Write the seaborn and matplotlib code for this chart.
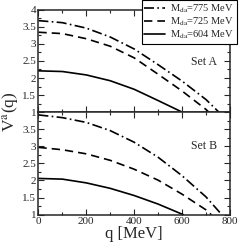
import matplotlib
matplotlib.use("Agg")
import matplotlib.pyplot as plt
import seaborn as sns
from matplotlib.ticker import MultipleLocator

# Set A curves, V^a(q)
q_775_a = [0, 100, 200, 300, 400, 500, 600, 700, 754]
v_775_a = [3.68, 3.62, 3.46, 3.20, 2.85, 2.39, 1.91, 1.37, 1.0]
q_725_a = [0, 100, 200, 300, 400, 500, 600, 700, 712]
v_725_a = [3.34, 3.30, 3.15, 2.93, 2.59, 2.11, 1.62, 1.08, 1.0]
q_604_a = [0, 100, 200, 300, 400, 500, 601]
v_604_a = [2.21, 2.19, 2.09, 1.92, 1.67, 1.34, 1.0]

# Set B curves
q_775_b = [0, 100, 200, 300, 400, 500, 600, 700, 766]
v_775_b = [3.92, 3.84, 3.70, 3.46, 3.12, 2.68, 2.14, 1.52, 1.0]
q_725_b = [0, 100, 200, 300, 400, 500, 600, 700, 722]
v_725_b = [2.97, 2.90, 2.78, 2.59, 2.33, 2.01, 1.60, 1.14, 1.0]
q_604_b = [0, 100, 200, 300, 400, 500, 605]
v_604_b = [2.06, 2.04, 1.93, 1.77, 1.56, 1.31, 1.0]

labels = [r"M$_{\mathrm{da}}$=775 MeV", r"M$_{\mathrm{da}}$=725 MeV",
          r"M$_{\mathrm{da}}$=604 MeV"]
styles = [(0, (6, 2, 1, 2)), (0, (5, 3)), "-"]

sns.set_style("ticks")
plt.rcParams["font.family"] = ["Liberation Serif", "DejaVu Serif"]
plt.rcParams["mathtext.fontset"] = "stix"

fig, axes = plt.subplots(2, 1, figsize=(2.4, 2.42), dpi=100, sharex=True)
fig.subplots_adjust(left=0.160, right=0.958, top=0.960, bottom=0.113, hspace=0)

sets = [
    [(q_775_a, v_775_a), (q_725_a, v_725_a), (q_604_a, v_604_a)],
    [(q_775_b, v_775_b), (q_725_b, v_725_b), (q_604_b, v_604_b)],
]

for ax, curves in zip(axes, sets):
    for (q, v), ls, lab in zip(curves, styles, labels):
        sns.lineplot(x=q, y=v, ax=ax, color="black", linestyle=ls,
                     linewidth=1.2, label=lab, legend=False)
    ax.set_xlim(0, 800)
    ax.set_ylim(1, 4)
    ax.xaxis.set_major_locator(MultipleLocator(200))
    ax.xaxis.set_minor_locator(MultipleLocator(100))
    ax.yaxis.set_major_locator(MultipleLocator(0.5))
    ax.yaxis.set_minor_locator(MultipleLocator(0.25))
    ax.tick_params(which="both", direction="in", top=True, right=True,
                   labelsize=8, width=0.8, pad=1.5)
    ax.tick_params(which="major", length=4)
    ax.tick_params(which="minor", length=2)
    for sp in ax.spines.values():
        sp.set_linewidth(1.1)
    ax.set_ylabel("")
    ax.yaxis.set_major_formatter(plt.FuncFormatter(lambda v, p: f"{v:g}"))

axes[0].text(691, 2.46, "Set A", fontsize=8.5, ha="center", va="center")
axes[1].text(691, 3.0, "Set B", fontsize=8.5, ha="center", va="center")

axes[1].set_yticks([1, 1.5, 2, 2.5, 3, 3.5, 4])
axes[1].set_yticklabels(["1", "1.5", "2", "2.5", "3", "3.5", ""])
axes[1].set_xlabel("q [MeV]", fontsize=12, labelpad=0)

leg = axes[0].legend(loc="upper right", bbox_to_anchor=(1.037, 1.095),
                     borderaxespad=0, fontsize=7.5, frameon=True, fancybox=False,
                     framealpha=1, edgecolor="black", handlelength=2.0,
                     labelspacing=0.05, borderpad=0.25, handletextpad=0.5)
leg.get_frame().set_linewidth(0.8)

fig.text(0.045, 0.537, r"V$^{\mathrm{a}}$(q)", rotation=90, fontsize=12.5,
         ha="center", va="center")

fig.savefig("out.png", dpi=100)
